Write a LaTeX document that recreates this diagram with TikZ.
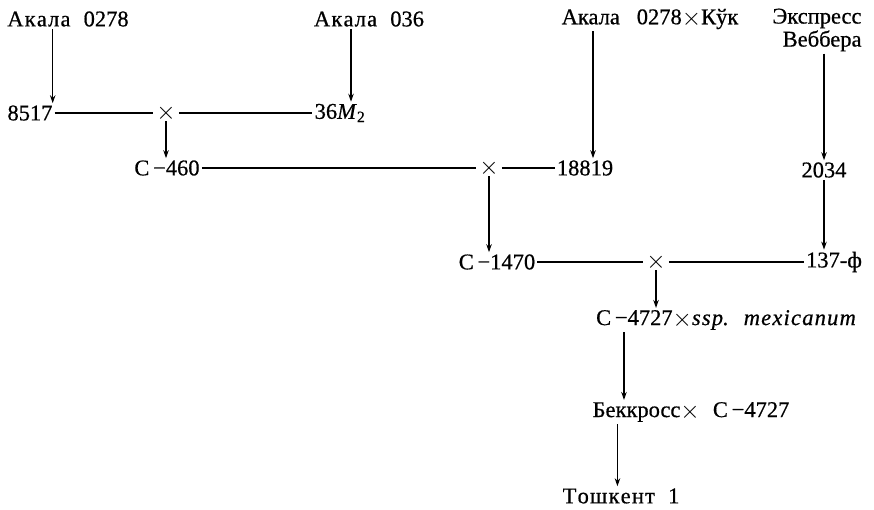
\documentclass[tikz,border=0pt]{standalone}
\usepackage{fontspec}
\setmainfont{Liberation Serif}[FakeBold=0.6]
\usetikzlibrary{arrows.meta}
\newcommand{\bx}{\raisebox{-1pt}{\fontsize{28}{28}\selectfont$\times$}}
\newcommand{\ls}{\kern1.2pt}
\begin{document}
\begin{tikzpicture}[x=1pt,y=-1pt,
  txt/.style={inner sep=2pt, font=\fontsize{22.5}{23}\selectfont},
  cross/.style={inner sep=0pt, font=\fontsize{34}{34}\selectfont},
  ln/.style={line width=1.2pt},
  arr/.style={line width=1.2pt,-{Stealth[length=8pt,width=5.5pt]}}]
\useasboundingbox (0,0) rectangle (874,510);
% top row
\node[txt] (a0278) at (68,19) {А\ls к\ls а\ls л\ls а\,\, 0278};
\node[txt] (a036) at (369,19) {А\ls к\ls а\ls л\ls а\,\, 036};
\node[txt] (ak) at (650,19) {Акала\,\,\, 0278\bx Кўк};
\node[txt, align=right] (exp) at (817,30) {Экспресс\\Веббера};
% second row
\node[txt] (n8517) at (30,113) {8517};
\node[cross] (x1) at (166,113) {$\times$};
\node[txt] (n36) at (340,113) {36\textit{M}\textsubscript{2}};
% third row
\node[txt] (c460) at (167,168) {С\,−460};
\node[cross] (x2) at (489,168) {$\times$};
\node[txt] (n18819) at (585,168) {18819};
\node[txt] (n2034) at (824,170) {2034};
% fourth row
\node[txt] (c1470) at (497,262) {С\,−1470};
\node[cross] (x3) at (656,262) {$\times$};
\node[txt] (n137) at (834,262) {137-ф};
% lower part
\node[txt] (c4727) at (726,320) {С\,−4727\bx\textit{s\ls s\ls p.\,\, m\ls e\ls x\ls i\ls c\ls a\ls n\ls u\ls m}};
\node[txt] (back) at (691,412) {Беккросс\bx\,\, С\,−4727};
\node[txt] (tosh) at (621,496) {Т\ls о\ls ш\ls к\ls е\ls н\ls т\,\, 1};
% horizontal lines
\draw[ln] (n8517.east) -- ([xshift=-3pt]x1.west);
\draw[ln] ([xshift=3pt]x1.east) -- (n36.west);
\draw[ln] (c460.east) -- ([xshift=-3pt]x2.west);
\draw[ln] ([xshift=3pt]x2.east) -- (n18819.west);
\draw[ln] (c1470.east) -- ([xshift=-3pt]x3.west);
\draw[ln] ([xshift=3pt]x3.east) -- (n137.west);
% arrows
\draw[arr] ([xshift=-2pt]n8517.north east |- a0278.south) -- ([xshift=-2pt]n8517.north east);
\draw[arr] ([xshift=-18pt]a036.south) -- ([xshift=-18pt]a036.south |- n36.north);
\draw[arr] (x1.south) -- (x1.south |- c460.north);
\draw[arr] ([xshift=8pt]n18819.north |- ak.south) -- ([xshift=8pt]n18819.north);
\draw[arr] (n2034.north |- exp.south) -- (n2034.north);
\draw[arr] (n2034.south) -- (n2034.south |- n137.north);
\draw[arr] (x2.south) -- (x2.south |- c1470.north);
\draw[arr] (x3.south) -- (x3.south |- c4727.north);
\draw[arr] ([xshift=30pt]c4727.south west) -- ([xshift=30pt]c4727.south west |- back.north);
\draw[arr] ([xshift=27pt]back.south west) -- ([xshift=27pt]back.south west |- tosh.north);
\end{tikzpicture}
\end{document}
